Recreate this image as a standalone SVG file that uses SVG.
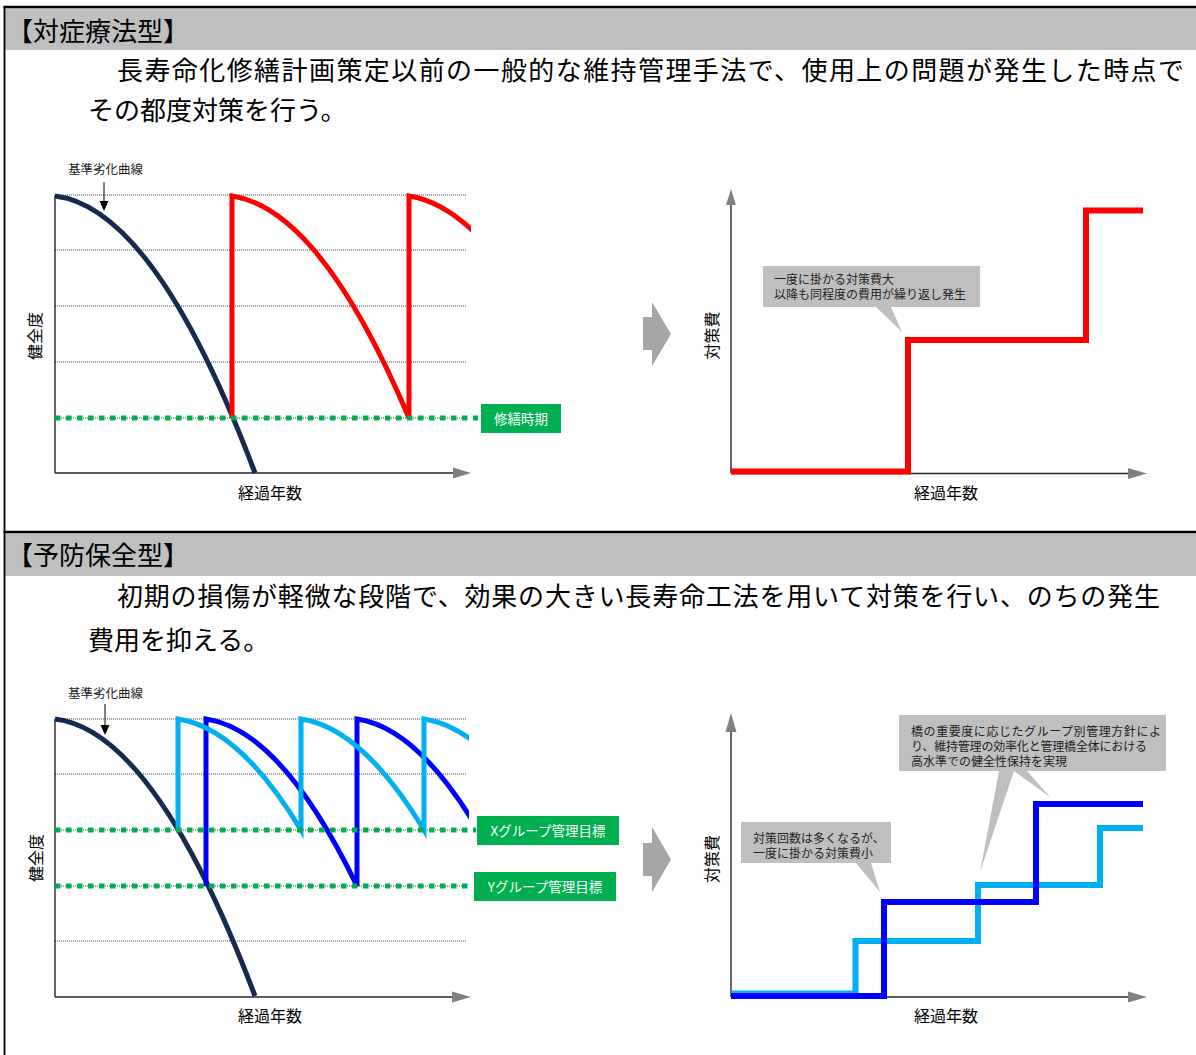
<svg xmlns="http://www.w3.org/2000/svg" width="1196" height="1055" viewBox="0 0 1196 1055">
<defs>
<style>
text { font-family: 'Noto Sans CJK JP','Noto Sans CJK SC',sans-serif; fill:#000; }
.title { font-size:26px; }
.desc { font-size:26px; }
.axlab { font-size:16px; }
.mid { text-anchor:middle; }
.small { font-size:12.5px; fill:#222; }
.call { font-size:12px; fill:#222; }
.glab { font-size:13.5px; fill:#fff; text-anchor:middle; }
.hdr { fill:#bfbfbf; }
.rule { stroke:#000; stroke-width:2.5; }
.grid { stroke:#404040; stroke-width:1; stroke-dasharray:1 1; fill:none; }
.green { stroke:#00b050; stroke-width:5; stroke-dasharray:5.5 5.5; fill:none; }
.gbox { fill:#00b050; }
.axis { stroke:#262626; stroke-width:1.5; fill:none; }
.yax { stroke:#000; stroke-width:1.2; fill:none; }
.ahead { fill:#808080; }
.pointer { stroke:#000; stroke-width:1; }
.navy { stroke:#162a4e; stroke-width:5; fill:none; }
.red { stroke:#ff0000; stroke-width:5; fill:none; }
.blue { stroke:#0000ff; stroke-width:5; fill:none; }
.lblue { stroke:#00b0f0; stroke-width:5; fill:none; }
.step { stroke-width:6; stroke-linejoin:miter; }
.callout { fill:#bfbfbf; }
.chev { fill:#a6a6a6; }
</style>
<clipPath id="clipTop"><rect x="40" y="150" width="431" height="340"/></clipPath>
<clipPath id="clipBot"><rect x="40" y="690" width="429" height="320"/></clipPath>
</defs>

<rect x="0" y="0" width="1196" height="1055" fill="#fff"/>

<!-- frame and headers -->
<g id="frame">
  <rect class="hdr" x="5" y="8.3" width="1191" height="41.7"/>
  <rect class="hdr" x="5" y="533.3" width="1191" height="42.7"/>
  <line class="rule" x1="3.5" y1="7" x2="1196" y2="7"/>
  <line class="rule" x1="3.5" y1="532" x2="1196" y2="532"/>
  <line x1="4.5" y1="6" x2="4.5" y2="1055" stroke="#000" stroke-width="1.8"/>
</g>

<g id="section1-text">
  <text class="title" x="7" y="41" textLength="182" lengthAdjust="spacing">【対症療法型】</text>
  <text class="desc" x="117" y="80" textLength="1067" lengthAdjust="spacing">長寿命化修繕計画策定以前の一般的な維持管理手法で、使用上の問題が発生した時点で</text>
  <text class="desc" x="88" y="120">その都度対策を行う。</text>
</g>

<g id="section2-text">
  <text class="title" x="7" y="565" textLength="182" lengthAdjust="spacing">【予防保全型】</text>
  <text class="desc" x="117" y="606" textLength="1043" lengthAdjust="spacing">初期の損傷が軽微な段階で、効果の大きい長寿命工法を用いて対策を行い、のちの発生</text>
  <text class="desc" x="88" y="650">費用を抑える。</text>
</g>

<!-- Top-left chart -->
<g id="chart1">
  <g class="grid">
    <line x1="55" y1="195" x2="467" y2="195"/>
    <line x1="55" y1="250" x2="467" y2="250"/>
    <line x1="55" y1="306" x2="467" y2="306"/>
    <line x1="55" y1="362" x2="467" y2="362"/>
    <line x1="55" y1="418" x2="467" y2="418"/>
  </g>
  <line class="yax" x1="55" y1="195" x2="55" y2="473"/>
  <line class="axis" x1="55" y1="473" x2="455" y2="473"/>
  <polygon class="ahead" points="453,467.5 453,478.5 471,473"/>
  <path class="navy" d="M55,196 q100,12 200,277"/>
  <path class="red" clip-path="url(#clipTop)" d="M232,418 V196 q88.5,13 177,222 V196 q88.5,13 177,222"/>
  <line class="green" x1="55" y1="418" x2="478" y2="418"/>
  <text class="small" x="68" y="173.5">基準劣化曲線</text>
  <line class="pointer" x1="104" y1="182" x2="104" y2="203"/>
  <polygon points="99.5,201 108.5,201 104,211" fill="#000"/>
  <text class="axlab" transform="translate(41,336) rotate(-90)" text-anchor="middle">健全度</text>
  <text class="axlab mid" x="270" y="498.5">経過年数</text>
</g>

<g id="label-shuzen">
  <rect class="gbox" x="481" y="404" width="80" height="29"/>
  <text class="glab" x="521" y="423.6">修繕時期</text>
</g>

<g id="arrow1">
  <path class="chev" d="M643,317 H652 V302 L671,334 L652,366 V350 H643 Z"/>
</g>

<!-- Top-right chart -->
<g id="chart2">
  <line class="yax" x1="731" y1="204" x2="731" y2="473"/>
  <polygon class="ahead" points="726,205 736,205 731,189"/>
  <line class="axis" x1="731" y1="473.5" x2="1130" y2="473.5" stroke="#404040" stroke-width="2"/>
  <polygon class="ahead" points="1128,468 1128,479 1147,473.5"/>
  <path class="red step" d="M731,471.5 H908 V340 H1086 V210.5 H1143"/>
  <text class="axlab" transform="translate(718,335.5) rotate(-90)" text-anchor="middle">対策費</text>
  <text class="axlab mid" x="946" y="498.5">経過年数</text>
</g>

<g id="callout1">
  <path class="callout" d="M763,266 H980 V307 H891 L902,332 L876,307 H763 Z"/>
  <text class="call" x="774" y="284">一度に掛かる対策費大</text>
  <text class="call" x="774" y="299">以降も同程度の費用が繰り返し発生</text>
</g>

<!-- Bottom-left chart -->
<g id="chart3">
  <g class="grid">
    <line x1="55" y1="719" x2="467" y2="719"/>
    <line x1="55" y1="774" x2="467" y2="774"/>
    <line x1="55" y1="830" x2="467" y2="830"/>
    <line x1="55" y1="886" x2="467" y2="886"/>
    <line x1="55" y1="941" x2="467" y2="941"/>
  </g>
  <line class="yax" x1="55" y1="719" x2="55" y2="997"/>
  <line class="axis" x1="55" y1="997" x2="455" y2="997"/>
  <polygon class="ahead" points="452,991.5 452,1002.5 471,997"/>
  <path class="navy" d="M55,719 q100,12 200,277"/>
  <path class="blue" clip-path="url(#clipBot)" d="M206,886 V719 q75.5,11 151,167 V719 q75.5,11 151,167"/>
  <path class="lblue" clip-path="url(#clipBot)" d="M178,830 V719 q61.5,9 123,111 V719 q61.5,9 123,111 V719 q61.5,9 123,111"/>
  <line class="green" x1="55" y1="830" x2="476" y2="830"/>
  <line class="green" x1="55" y1="886" x2="473" y2="886"/>
  <text class="small" x="68" y="697.5">基準劣化曲線</text>
  <line class="pointer" x1="105" y1="704" x2="105" y2="726"/>
  <polygon points="100.5,725 109.5,725 105,735" fill="#000"/>
  <text class="axlab" transform="translate(42,858) rotate(-90)" text-anchor="middle">健全度</text>
  <text class="axlab mid" x="270" y="1021.5">経過年数</text>
</g>

<g id="label-x">
  <rect class="gbox" x="477" y="816" width="142" height="29"/>
  <text class="glab" x="548" y="835.6">Xグループ管理目標</text>
</g>
<g id="label-y">
  <rect class="gbox" x="474" y="872" width="142" height="29"/>
  <text class="glab" x="545" y="891.6">Yグループ管理目標</text>
</g>

<g id="arrow2">
  <path class="chev" d="M643,843 H652 V827 L671,859.5 L652,892 V876 H643 Z"/>
</g>

<!-- Bottom-right chart -->
<g id="chart4">
  <line class="yax" x1="731" y1="730" x2="731" y2="997"/>
  <polygon class="ahead" points="725.5,732 736.5,732 731,713"/>
  <line class="axis" x1="731" y1="997" x2="1130" y2="997" stroke="#404040" stroke-width="2"/>
  <polygon class="ahead" points="1128,991.5 1128,1002.5 1147,997"/>
  <path class="lblue step" d="M731,993.5 H855.5 V941 H978 V885 H1100 V828 H1143"/>
  <path class="blue step" d="M731,996 H884 V902 H1036 V804 H1143"/>
  <text class="axlab" transform="translate(718,859) rotate(-90)" text-anchor="middle">対策費</text>
  <text class="axlab mid" x="946" y="1021.5">経過年数</text>
</g>

<g id="callout2">
  <path class="callout" d="M741,822 H891 V863 H871 L880,892 L856,863 H741 Z"/>
  <text class="call" x="753" y="843">対策回数は多くなるが、</text>
  <text class="call" x="753" y="858">一度に掛かる対策費小</text>
</g>

<g id="callout3">
  <path class="callout" d="M899,715 H1166 V771 H1027 L1050,797 L1014,771 L980,872 L999,771 H899 Z"/>
  <text class="call" x="911" y="735.5" textLength="250" lengthAdjust="spacing">橋の重要度に応じたグループ別管理方針によ</text>
  <text class="call" x="911" y="750.5" textLength="236" lengthAdjust="spacing">り、維持管理の効率化と管理橋全体における</text>
  <text class="call" x="911" y="765.5">高水準での健全性保持を実現</text>
</g>
</svg>
